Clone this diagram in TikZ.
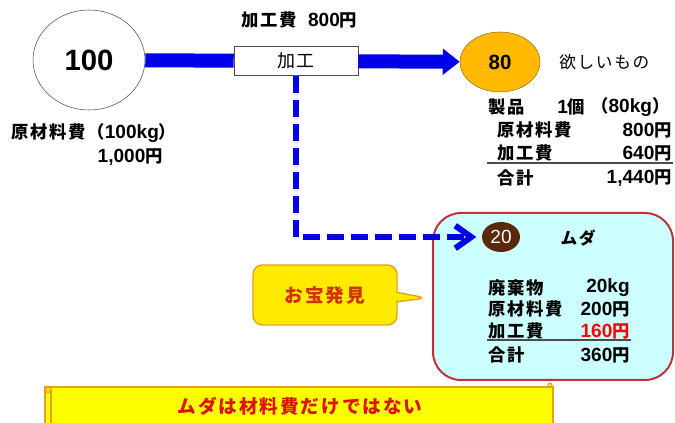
\documentclass[tikz,border=0pt]{standalone}
\usepackage{fontspec}
\setmainfont{Noto Sans CJK JP}[LetterSpace=10]
\newfontfamily\lat{Liberation Sans}[Scale=1.1]
\usetikzlibrary{shapes.geometric,shapes.callouts,arrows.meta}

\definecolor{flowblue}{RGB}{0,0,235}
\definecolor{goldfill}{RGB}{255,185,0}
\definecolor{goldline}{RGB}{160,110,0}
\definecolor{brownfill}{RGB}{90,40,10}
\definecolor{wastecyan}{RGB}{204,255,255}
\definecolor{wastered}{RGB}{190,50,60}
\definecolor{hintyellow}{RGB}{255,234,0}
\definecolor{hintorange}{RGB}{230,160,30}
\definecolor{hinttext}{RGB}{210,50,0}
\definecolor{banneryellow}{RGB}{255,255,0}
\definecolor{bannertext}{RGB}{220,20,0}

\tikzset{
  lbl/.style={inner sep=0.75pt,font=\bfseries\fontsize{13}{15}\selectfont},
  row/.style={inner sep=0.75pt,font=\bfseries\fontsize{13}{15}\selectfont},
  flowbar/.style={flowblue,line width=10.5pt},
  dashflow/.style={flowblue,line width=4.5pt,dash pattern={on 12.5pt off 5.5pt}},
}

\begin{document}
\begin{tikzpicture}[x=0.75pt,y=0.75pt,yscale=-1,xscale=1]
\useasboundingbox (0,0) rectangle (675,423);

%Shape: Ellipse [id:raw]
\node [ellipse,draw=black!70,fill=white,minimum width=84pt,minimum height=75pt,inner sep=0pt,font=\lat\bfseries\fontsize{20}{24}\selectfont] (raw) at (89,60) {100};
%Shape: Rectangle [id:proc]
\node [draw=black!70,fill=white,minimum width=93pt,minimum height=22pt,inner sep=0pt,font=\fontsize{13.5}{15}\selectfont] (proc) at (296,61) {加工};
%Shape: Ellipse [id:good]
\node [ellipse,draw=goldline,fill=goldfill,minimum width=60pt,minimum height=45pt,inner sep=0pt,font=\lat\bfseries\fontsize{14}{17}\selectfont] (good) at (500,62) {80};

%Straight Lines [id:rawproc]
\draw [flowbar] (raw) -- (proc);
%Straight Lines [id:procgood]
\draw [flowbar,-{Triangle[length=12.75pt,width=19pt]}] (proc) -- (good);

% Text Node
\node [lbl,anchor=west] (cost) at (240,20) {加工費\ \ {\lat 800}円};
% Text Node
\node [lbl,anchor=west,font=\fontsize{12.5}{15}\selectfont] (want) at (558,62) {欲しいもの};
% Text Node
\node [lbl,anchor=west] (rawcost) at (10,133) {原材料費（{\lat 100kg}）};
% Text Node
\node [lbl,anchor=east] (rawyen) at (164,157) {{\lat 1,000}円};

% Text Node
\node [row,anchor=west] (prod) at (487,107) {製品};
% Text Node
\node [row,anchor=west] (prodn) at (556,107) {{\lat 1}個};
% Text Node
\node [row,anchor=west] (prodkg) at (590,107) {（{\lat 80kg}）};
% Text Node
\node [row,anchor=west] (prodraw) at (496,130) {原材料費};
% Text Node
\node [row,anchor=east] (prodrawv) at (673,130) {{\lat 800}円};
% Text Node
\node [row,anchor=west] (prodproc) at (496,153) {加工費};
% Text Node
\node [row,anchor=east] (prodprocv) at (673,153) {{\lat 640}円};
% Text Node
\node [row,anchor=west] (prodsum) at (496,178) {合計};
% Text Node
\node [row,anchor=east] (prodsumv) at (673,178) {{\lat 1,440}円};
%Straight Lines [id:produline]
\draw [black!70,line width=0.8pt] (487,163) -- (673,163);

%Rounded Rect [id:waste]
\draw [wastered,fill=wastecyan,line width=1.5pt,rounded corners=21pt] (433,213) rectangle (673,380);
%Shape: Ellipse [id:loss]
\node [ellipse,fill=brownfill,minimum width=28.5pt,minimum height=22.5pt,inner sep=0pt,text=white,font=\lat\fontsize{13}{16}\selectfont] (loss) at (501,237) {20};
% Text Node
\node [lbl,font=\bfseries\fontsize{12.5}{14}\selectfont] (muda) at (578,238) {ムダ};
% Text Node
\node [row,anchor=west] (wkg) at (487,288) {廃棄物};
% Text Node
\node [row,anchor=east] (wkgv) at (631,288) {{\lat 20kg}};
% Text Node
\node [row,anchor=west] (wraw) at (487,309) {原材料費};
% Text Node
\node [row,anchor=east] (wrawv) at (631,309) {{\lat 200}円};
% Text Node
\node [row,anchor=west] (wproc) at (487,331) {加工費};
% Text Node
\node [row,anchor=east,text=red] (wprocv) at (631,331) {{\lat 160}円};
% Text Node
\node [row,anchor=west] (wsum) at (487,355) {合計};
% Text Node
\node [row,anchor=east] (wsumv) at (631,355) {{\lat 360}円};
%Straight Lines [id:wasteuline]
\draw [black!70,line width=0.8pt] (487,340) -- (631,340);

%Straight Lines [id:procloss]
\draw [dashflow,-{Straight Barb[length=12pt,width=17pt]},line join=round] (proc.south) |- ([xshift=-4pt]loss.west);

%Shape: Callout [id:hint]
\coordinate (hinttip) at (427,298);
\node [rectangle callout,callout absolute pointer=(hinttip),rounded corners=7pt,draw=hintorange,fill=hintyellow,line width=1pt,minimum width=108pt,minimum height=45pt,text=hinttext,font=\bfseries\fontsize{14}{16}\selectfont] (hint) at (325,295) {お宝発見};

%Shape: Scroll [id:banner]
\draw [hintorange,fill=banneryellow,line width=1pt] (45,387) rectangle (553,430);
\draw [hintorange,fill=banneryellow,line width=0.8pt] (45,389) -- (45,430) (51,389) -- (51,430);
\draw [hintorange,fill=hintyellow,line width=0.8pt] (48,390) circle [radius=2.5];
\draw [hintorange,fill=hintyellow,line width=0.8pt] (550,385) circle [radius=2];
% Text Node
\node [lbl,text=bannertext,font=\bfseries\fontsize{14}{16}\selectfont] (bannertxt) at (300,406) {ムダは材料費だけではない};

\end{tikzpicture}
\end{document}
